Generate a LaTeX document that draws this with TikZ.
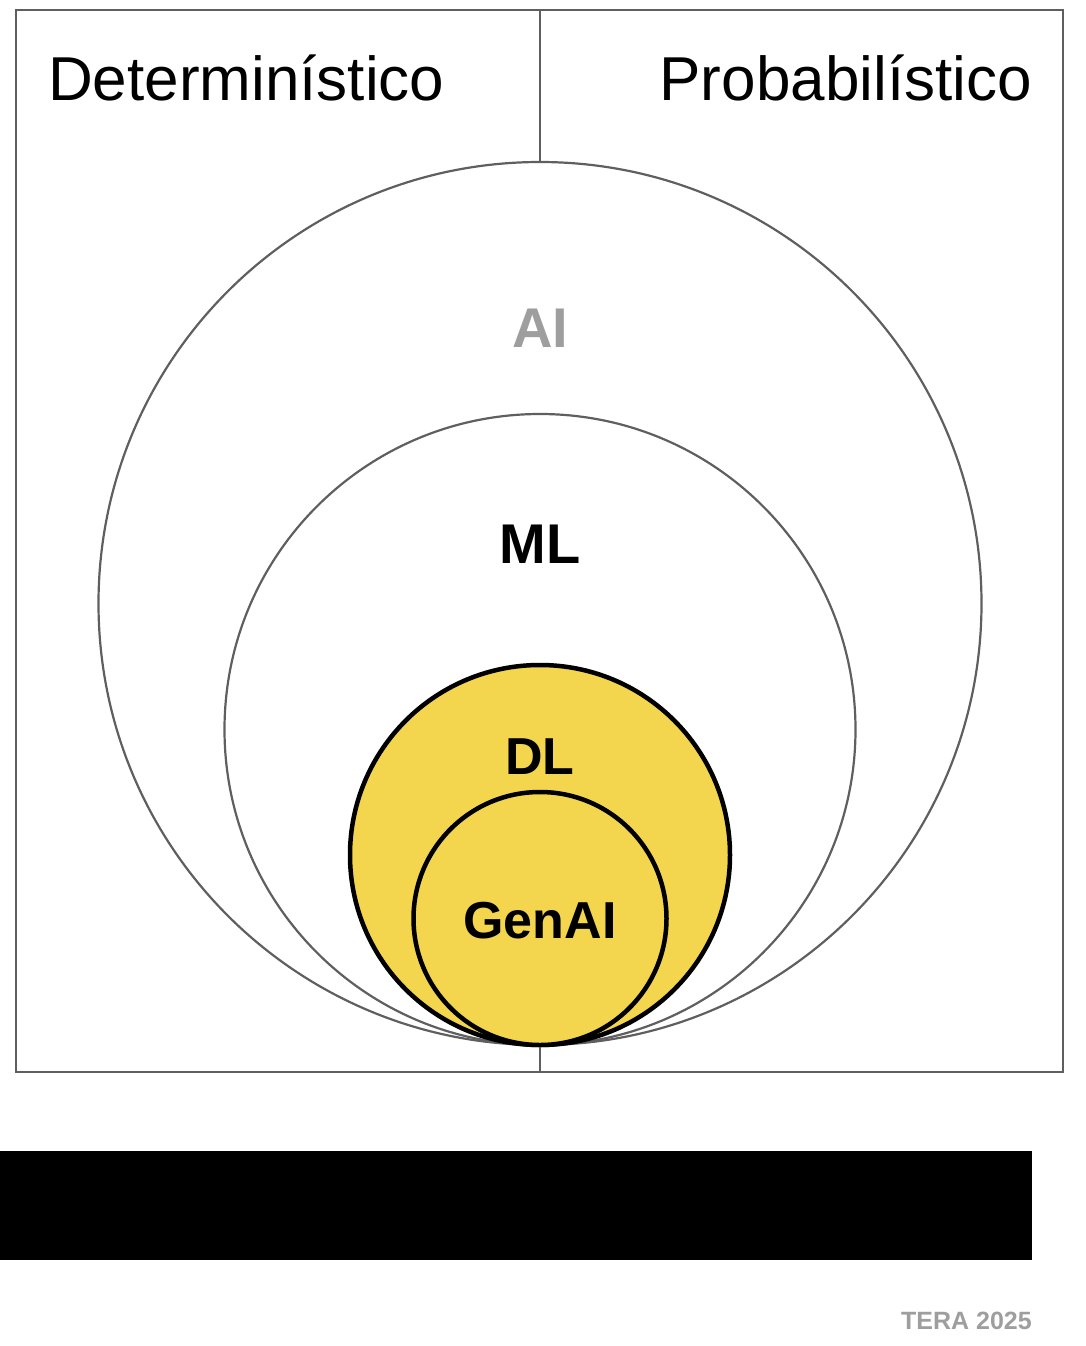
\documentclass[tikz,border=0pt]{standalone}
\usepackage{fontspec}
\setmainfont{Liberation Sans}
\definecolor{ylw}{HTML}{F4D54E}
\definecolor{ln}{HTML}{5F5F5F}
\definecolor{gr}{HTML}{9E9E9E}
\begin{document}
\begin{tikzpicture}[x=1pt,y=-1pt,
  thin/.style={draw=ln,line width=2.2pt},
  thick/.style={draw=black,line width=4.5pt,fill=ylw},
  lbl/.style={font=\fontsize{56}{60}\selectfont\bfseries,inner sep=0pt}]
\useasboundingbox (0,0) rectangle (1086,1346);
\node[thin,minimum width=1047pt,minimum height=1062pt,inner sep=0pt] (box) at (539.5,541) {};
\coordinate (topmid) at (540,10);
\coordinate (botmid) at (540,1072);
\draw[thin] (540,603.5) circle (441.5);
\draw[thin] (540,729.5) circle (315.5);
\draw[thick] (540,855) circle (190);
\draw[thick] (540,918.5) circle (126.5);
\coordinate (aitop) at (540,162);
\coordinate (aibot) at (540,1047);
\draw[thin] (topmid) -- (aitop);
\draw[thin] (aibot) -- (botmid);
\node[anchor=base west,inner sep=0pt,font=\fontsize{62}{66}\selectfont] (det) at (48,100) {Determinístico};
\node[anchor=base east,inner sep=0pt,font=\fontsize{62}{66}\selectfont] (prob) at (1032,100) {Probabilístico};
\node[lbl,text=gr,anchor=base] (ai) at (540,347) {AI};
\node[lbl,anchor=base] (ml) at (540,563) {ML};
\node[lbl,anchor=base,font=\fontsize{52}{56}\selectfont\bfseries] (dl) at (540,774) {DL};
\node[lbl,anchor=base,font=\fontsize{52}{56}\selectfont\bfseries] (gen) at (540,938) {GenAI};
\fill[black] (0,1151) rectangle (1032,1260);
\node[anchor=base east,inner sep=0pt,text=gr,font=\fontsize{25}{28}\selectfont\bfseries] (tera) at (1032,1329) {TERA 2025};
\end{tikzpicture}
\end{document}
